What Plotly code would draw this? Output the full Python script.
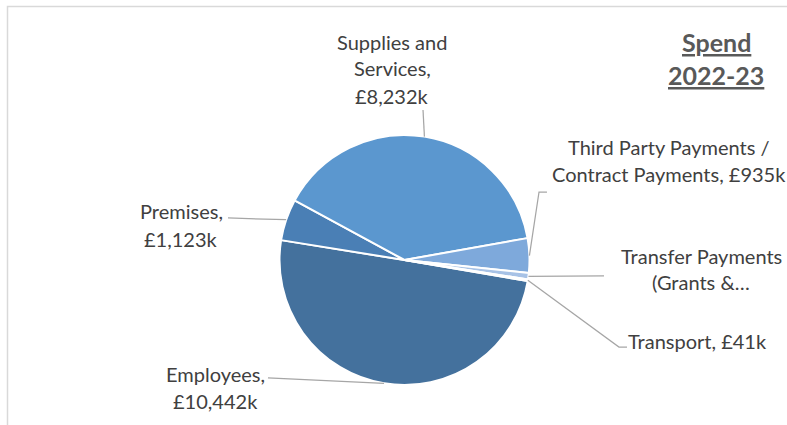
import math
import plotly.graph_objects as go

# Spend by category, 2022-23 (£k)
categories = ["Employees", "Premises", "Supplies and Services",
              "Third Party Payments / Contract Payments",
              "Transfer Payments (Grants & Subsidies)", "Transport"]
values = [10442, 1123, 8232, 935, 175, 41]
colors = ["#44719D", "#4A7FB5", "#5B97CF", "#7EA9DB", "#A7C2E6", "#C4D6EE"]

# Label lines for each slice (line breaks as laid out on the chart)
label_lines = [
    ["Employees,", "£{:,}k".format(values[0])],
    ["Premises,", "£{:,}k".format(values[1])],
    ["Supplies and", "Services,", "£{:,}k".format(values[2])],
    ["Third Party Payments /", "Contract Payments, £{:,}k".format(values[3])],
    ["Transfer Payments", "(Grants &…"],
    ["Transport, £{:,}k".format(values[5])],
]

W, H = 787, 425
CX, CY, R = 404.5, 260.0, 125.0      # pie centre / radius in pixels
ROTATION = 99.7                      # start angle of the first slice (deg clockwise from 12 o'clock)

# label placement: centre x, first line y, line step (pixels)
label_pos = [
    (215, 373.5, 27),
    (181, 211.5, 27),
    (392, 41.5, 27),
    (669, 146.5, 27),
    (701, 255.5, 26),
    (697, 340.5, 27),
]
# leader-line anchor points near each label (pixels), last point joins the slice edge
leader_pts = [
    [(268, 378)],
    [(228, 218)],
    [(423, 110)],
    [(547, 192), (539, 192)],
    [(604, 276)],
    [(627, 347), (619, 347)],
]

TEXT = "#404040"
FONT = "Lato"
FS = 20


def px(x):
    return x / W


def py(y):
    return 1 - y / H


fig = go.Figure(go.Pie(
    labels=categories,
    values=values,
    sort=False,
    direction="clockwise",
    rotation=ROTATION,
    marker=dict(colors=colors, line=dict(color="white", width=2)),
    textinfo="none",
    hoverinfo="label+value",
    showlegend=False,
    domain=dict(x=[px(CX - R), px(CX + R)], y=[py(CY + R), py(CY - R)]),
))

annotations = []
shapes = []

# slice mid-angles from the data
total = sum(values)
acc = 0.0
for i, v in enumerate(values):
    mid = ROTATION + (acc + v / 2) / total * 360.0
    acc += v
    a = math.radians(mid)
    ex, ey = CX + R * math.sin(a), CY - R * math.cos(a)
    pts = leader_pts[i] + [(ex, ey)]
    path = "M " + " L ".join("{:.4f},{:.4f}".format(px(x), py(y)) for x, y in pts)
    shapes.append(dict(type="path", xref="paper", yref="paper", path=path,
                       line=dict(color="#A6A6A6", width=1.25)))

    cx, y0, step = label_pos[i]
    for j, line in enumerate(label_lines[i]):
        annotations.append(dict(
            x=px(cx), y=py(y0 + j * step), xref="paper", yref="paper",
            text=line, showarrow=False, xanchor="center", yanchor="middle",
            font=dict(family=FONT, size=FS, color=TEXT), borderpad=0,
        ))

# title
for txt, y in [("Spend", 42.5), ("2022-23", 75.5)]:
    annotations.append(dict(
        x=px(716), y=py(y), xref="paper", yref="paper",
        text="<b><u>{}</u></b>".format(txt), showarrow=False,
        xanchor="center", yanchor="middle",
        font=dict(family=FONT, size=25, color="#595959"), borderpad=0,
    ))

# chart-area frame
shapes.append(dict(type="rect", xref="paper", yref="paper",
                   x0=px(7.5), y0=py(440), x1=px(800), y1=py(6.5),
                   line=dict(color="#D9D9D9", width=1.5)))

fig.update_layout(
    width=W, height=H,
    margin=dict(l=0, r=0, t=0, b=0),
    paper_bgcolor="white", plot_bgcolor="white",
    annotations=annotations, shapes=shapes,
)

fig.write_html("out.html")
